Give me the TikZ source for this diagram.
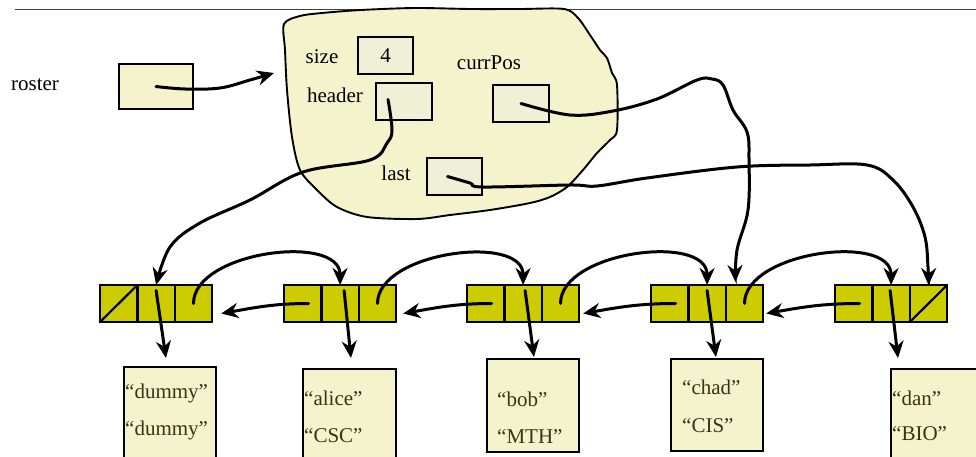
\documentclass[tikz,border=0pt]{standalone}
\usepackage{fontspec}
\setmainfont{Liberation Serif}
\usepackage{tikz}
\usetikzlibrary{arrows.meta, positioning}
\definecolor{pale}{RGB}{244,243,204}
\definecolor{palebox}{RGB}{240,240,214}
\definecolor{cellfill}{RGB}{204,204,0}
\definecolor{inktext}{RGB}{58,52,20}

\begin{document}
\begin{tikzpicture}[>={Stealth[length=17pt,width=15pt]}, x=1pt, y=1pt, font=\fontsize{21}{25}\selectfont]
    \tikzstyle{cell} = [draw, line width=2.2pt, fill=cellfill, minimum width=37.4pt, minimum height=37pt, inner sep=0pt, outer sep=0pt]
    \tikzstyle{box} = [draw, line width=1.9pt, fill=palebox, minimum width=55pt, minimum height=37pt, inner sep=0pt]
    \tikzstyle{record} = [draw, line width=1.9pt, fill=pale, inner sep=0pt, anchor=north west]
    \tikzstyle{field} = [anchor=west, inner sep=0pt, text=inktext]
    \tikzstyle{pointer} = [->, line width=3pt, line cap=round]

    \useasboundingbox (0,0) rectangle (976,-457);
    \draw[line width=1pt, black!75] (15,-10) -- (976,-10);

    % Roster variable
    \node (rosterlabel) at (35,-85) {roster};
    \node[box, fill=pale, minimum width=74pt, minimum height=45pt] (roster) at (156,-86.5) {};
    \coordinate (heap) at (274,-73);

    % The list object
    \draw[line width=1.9pt, fill=pale] plot[smooth cycle, tension=0.5] coordinates {
        (284,-24) (300,-16) (322,-13) (361,-10) (415,-8) (470,-9) (520,-9) (564,-9)
        (578,-18) (590,-35) (600,-50) (607,-58) (612,-73) (617,-85) (617,-130)
        (610,-140) (597,-153) (583,-170) (567,-187) (550,-197) (530,-203) (490,-210)
        (450,-215) (417,-219) (367,-217) (337,-207) (317,-190) (300,-170) (292,-137)
        (287,-90) (285,-50)};
    \node (sizelabel) at (322,-57) {size};
    \node[box] (size) at (385.5,-55.5) {4};
    \node (currlabel) at (489,-63) {currPos};
    \node (headlabel) at (335,-95) {header};
    \node[box, minimum width=56pt] (header) at (404,-101.5) {};
    \node[box, minimum width=56pt] (currPos) at (521,-103.5) {};
    \node (lastlabel) at (396,-173) {last};
    \node[box] (last) at (454.5,-176.5) {};

    % List nodes
    \node[cell] (dummyp) at (118.7,-303.5) {};
    \node[cell, right=0pt of dummyp] (dummyd) {};
    \node[cell, right=0pt of dummyd] (dummyn) {};
    \node[cell] (alicep) at (302.7,-303.5) {};
    \node[cell, right=0pt of alicep] (aliced) {};
    \node[cell, right=0pt of aliced] (alicen) {};
    \node[cell] (bobp) at (485.7,-303.5) {};
    \node[cell, right=0pt of bobp] (bobd) {};
    \node[cell, right=0pt of bobd] (bobn) {};
    \node[cell] (chadp) at (669.7,-303.5) {};
    \node[cell, right=0pt of chadp] (chadd) {};
    \node[cell, right=0pt of chadd] (chadn) {};
    \node[cell] (danp) at (853.7,-303.5) {};
    \node[cell, right=0pt of danp] (dand) {};
    \node[cell, right=0pt of dand] (dann) {};
    \draw[line width=2.2pt] (dummyp.south west) -- (dummyp.north east);
    \draw[line width=2.2pt] (dann.south west) -- (dann.north east);

    % Records
    \node[record, minimum width=92pt, minimum height=95pt] (dummyrec) at (123,-366) {};
    \node[field] (dummyname) at ([shift={(2pt,-27pt)}]dummyrec.north west) {“dummy”};
    \node[field] (dummymajor) at ([shift={(2pt,-64pt)}]dummyrec.north west) {“dummy”};
    \node[record, minimum width=93pt, minimum height=93pt] (alicerec) at (302,-368) {};
    \node[field] (alicename) at ([shift={(2pt,-30pt)}]alicerec.north west) {“alice”};
    \node[field] (alicemajor) at ([shift={(2pt,-68pt)}]alicerec.north west) {“CSC”};
    \node[record, minimum width=92pt, minimum height=93pt] (bobrec) at (486,-358) {};
    \node[field] (bobname) at ([shift={(11pt,-41pt)}]bobrec.north west) {“bob”};
    \node[field] (bobmajor) at ([shift={(11pt,-79pt)}]bobrec.north west) {“MTH”};
    \node[record, minimum width=92pt, minimum height=92pt] (chadrec) at (670,-358) {};
    \node[field] (chadname) at ([shift={(12pt,-29pt)}]chadrec.north west) {“chad”};
    \node[field] (chadmajor) at ([shift={(12pt,-68pt)}]chadrec.north west) {“CIS”};
    \node[record, minimum width=95pt, minimum height=93pt] (danrec) at (890,-368) {};
    \node[field] (danname) at ([shift={(2pt,-30pt)}]danrec.north west) {“dan”};
    \node[field] (danmajor) at ([shift={(2pt,-66pt)}]danrec.north west) {“BIO”};

    % Next links
    \draw[pointer] (dummyn.center) to[out=90, in=90, looseness=0.9] (aliced.north);
    \draw[pointer] (alicen.center) to[out=90, in=90, looseness=0.9] (bobd.north);
    \draw[pointer] (bobn.center) to[out=90, in=90, looseness=0.9] (chadd.north);
    \draw[pointer] (chadn.center) to[out=90, in=90, looseness=0.9] (dand.north);

    % Prev links
    \draw[pointer] ([xshift=6pt]alicep.center) to[out=180, in=10] ([shift={(9pt,-10pt)}]dummyn.east);
    \draw[pointer] ([xshift=6pt]bobp.center) to[out=180, in=10] ([shift={(7pt,-10pt)}]alicen.east);
    \draw[pointer] ([xshift=6pt]chadp.center) to[out=180, in=10] ([shift={(4pt,-10pt)}]bobn.east);
    \draw[pointer] ([xshift=6pt]danp.center) to[out=180, in=10] ([shift={(3pt,-10pt)}]chadn.east);

    % Data links
    \draw[pointer] ([yshift=13pt]dummyd.center) -- ([shift={(-4pt,8pt)}]dummyrec.north);
    \draw[pointer] ([shift={(4pt,13pt)}]aliced.center) -- ([shift={(1.5pt,10pt)}]alicerec.north);
    \draw[pointer] ([shift={(2pt,13pt)}]bobd.center) -- ([shift={(1pt,1pt)}]bobrec.north);
    \draw[pointer] ([shift={(0pt,13pt)}]chadd.center) -- ([shift={(-1pt,1pt)}]chadrec.north);
    \draw[pointer] ([shift={(-1pt,13pt)}]dand.center) -- ([shift={(8pt,10pt)}]danrec.north west);

    % Fields of the list object
    \coordinate (headstart) at ([shift={(-16pt,2pt)}]header.center);
    \coordinate (laststart) at ([xshift=-7pt]last.center);
    \coordinate (chadtip) at ([shift={(-9pt,3pt)}]chadn.north);
    \draw[pointer] plot[smooth, tension=0.6] coordinates {(roster.center) (185,-89) (220,-88) (250,-80) (heap)};
    \draw[pointer] plot[smooth, tension=0.6] coordinates {(headstart) (392,-130) (387,-143) (370,-160)
        (303,-172) (250,-200) (200,-223) (170,-247) (dummyd.north)};
    \draw[pointer] plot[smooth, tension=0.6] coordinates {(currPos.center) (570,-115) (613,-111) (657,-99)
        (697,-80) (712,-79) (723,-85) (733,-110) (747,-132) (749,-160) (748,-210) (737,-250) (chadtip)};
    \draw[pointer] plot[smooth, tension=0.6] coordinates {(laststart) (470,-183) (483,-187) (570,-185)
        (597,-186) (647,-178) (737,-167) (810,-165) (867,-165) (893,-180) (913,-207) (925,-237)
        (928,-267) (dann.north)};
\end{tikzpicture}
\end{document}
